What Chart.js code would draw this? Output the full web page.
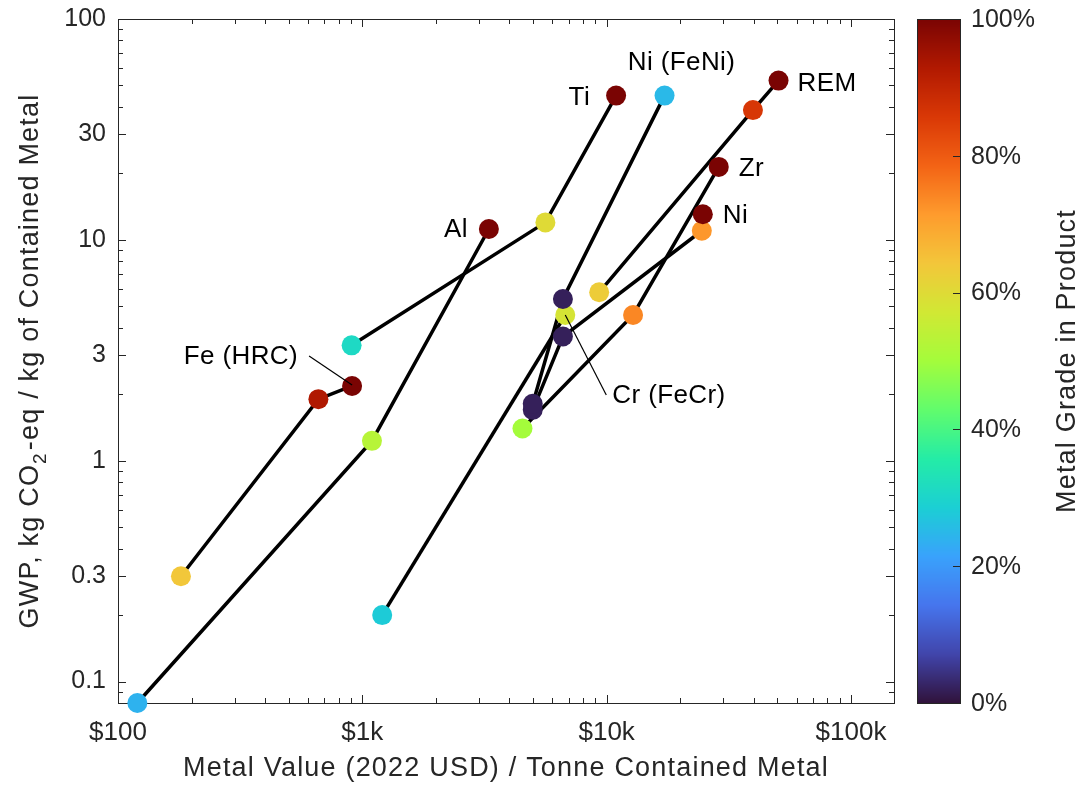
<!DOCTYPE html>
<html><head><meta charset="utf-8">
<script src="https://cdn.jsdelivr.net/npm/chart.js@4/dist/chart.umd.min.js"></script>
<style>html,body{margin:0;padding:0;background:#fff}#wrap{width:1082px;height:786px;position:relative}</style>
</head><body><div id="wrap"><canvas id="c" width="1082" height="786"></canvas></div>
<script>
// ---------- DATA ----------
const xTickValues = [100, 1000, 10000, 100000];
const xTickLabels = ['$100', '$1k', '$10k', '$100k'];
const yTickValues = [0.1, 0.3, 1, 3, 10, 30, 100];
const yTickLabels = ['0.1', '0.3', '1', '3', '10', '30', '100'];
const gradeTickValues = [0, 20, 40, 60, 80, 100];
const gradeTickLabels = ['0%', '20%', '40%', '60%', '80%', '100%'];

// value (USD / tonne contained metal), GWP (kg CO2-eq / kg metal), grade (%)
const feValue = [181, 661, 908];
const feGwp = [0.30, 1.90, 2.18];
const feGrade = [64, 93, 100];

const alValue = [120, 1095, 3296];
const alGwp = [0.080, 1.23, 11.2];
const alGrade = [24, 53, 100];

const tiValue = [904, 5614, 10932];
const tiGwp = [3.33, 12.0, 45.0];
const tiGrade = [31, 60, 100];

const feniValue = [4983, 6622, 17258];
const feniGwp = [1.81, 5.40, 45.0];
const feniGrade = [2, 2, 25];

const niValue = [4983, 6622, 24520, 24753];
const niGwp = [1.70, 3.65, 11.0, 13.06];
const niGrade = [2, 2, 72, 100];

const crValue = [1206, 6771];
const crGwp = [0.200, 4.57];
const crGrade = [28, 58];

const zrValue = [4523, 12828, 28760];
const zrGwp = [1.40, 4.57, 21.4];
const zrGrade = [50, 74, 100];

const remValue = [9320, 39690, 50520];
const remGwp = [5.79, 38.7, 52.6];
const remGrade = [63, 86, 100];

const seriesNames = ['Fe (HRC)', 'Al', 'Ti', 'Ni (FeNi)', 'Ni', 'Cr (FeCr)', 'Zr', 'REM'];

// ---------- COLORMAP (turbo) ----------
const turboStops = ['#30123b','#4145ab','#4675ed','#39a2fc','#1bcfd4','#24eca6','#61fc6c','#a4fc3b','#d1e834','#f3c63a','#fe9b2d','#f36315','#d93806','#b11901','#7a0403'];
function hexRgb(h){return [parseInt(h.substr(1,2),16),parseInt(h.substr(3,2),16),parseInt(h.substr(5,2),16)];}
const turboRgb = turboStops.map(hexRgb);
function turbo(t){
  t = Math.max(0, Math.min(1, t));
  const f = t * (turboRgb.length - 1);
  const i = Math.min(Math.floor(f), turboRgb.length - 2);
  const u = f - i;
  const a = turboRgb[i], b = turboRgb[i+1];
  return 'rgb(' + [0,1,2].map(k => Math.round(a[k] + (b[k]-a[k])*u)).join(',') + ')';
}

const seriesList = [
  [feValue, feGwp, feGrade],
  [alValue, alGwp, alGrade],
  [tiValue, tiGwp, tiGrade],
  [feniValue, feniGwp, feniGrade],
  [niValue, niGwp, niGrade],
  [crValue, crGwp, crGrade],
  [zrValue, zrGwp, zrGrade],
  [remValue, remGwp, remGrade]
];

const datasets = [];
seriesList.forEach((s, k) => {
  const pts = s[0].map((v, i) => ({x: v, y: s[1][i]}));
  datasets.push({
    label: seriesNames[k] + ' points', data: pts, showLine: false, order: 0, clip: false,
    pointRadius: 10, pointHoverRadius: 10, pointBorderWidth: 0,
    pointBackgroundColor: s[2].map(g => turbo(g / 100)), pointBorderColor: 'rgba(0,0,0,0)'
  });
  datasets.push({
    label: seriesNames[k], data: pts, showLine: true, order: 1, clip: false,
    borderColor: '#000', borderWidth: 3.5, pointRadius: 0, pointHoverRadius: 0, tension: 0
  });
});

// Annotation labels: text, anchor point (series data), offsets, alignment
const annoTexts = ['Ti', 'Ni (FeNi)', 'REM', 'Zr', 'Ni', 'Al', 'Fe (HRC)', 'Cr (FeCr)'];
const annoAnchorX = [tiValue[2], feniValue[2], remValue[2], zrValue[2], niValue[3], alValue[2], feValue[2], crValue[1]];
const annoAnchorY = [tiGwp[2], feniGwp[2], remGwp[2], zrGwp[2], niGwp[3], alGwp[2], feGwp[2], crGwp[1]];
const annoStyle = [
  {dx: -26, dy: 2, align: 'right'},
  {dx: 17, dy: -33, align: 'center'},
  {dx: 19, dy: 3, align: 'left'},
  {dx: 20, dy: 2, align: 'left'},
  {dx: 20, dy: 2, align: 'left'},
  {dx: -21, dy: 1, align: 'right'},
  {dx: -54, dy: -29, align: 'right', leader: [-43, -30, 0, -1]},
  {dx: 47, dy: 81, align: 'left', leader: [0, 0, 41, 80]}
];

const FONT = '"Liberation Sans", Arial, Helvetica, sans-serif';
const AXC = '#262626';

function spaced(ctx, px) { if ('letterSpacing' in ctx) ctx.letterSpacing = px + 'px'; }

const decoPlugin = {
  id: 'deco',
  beforeDatasetsDraw(chart) {
    const ctx = chart.ctx, ca = chart.chartArea;
    const xs = chart.scales.x, ys = chart.scales.y;
    ctx.save();
    ctx.strokeStyle = AXC; ctx.lineWidth = 1;
    const xMinor = [], yMinor = [];
    for (let d = 100; d <= 100000; d *= 10) for (let m = 1; m <= 9; m++) { const v = d*m; if (v <= xs.max) xMinor.push(v); }
    for (let d = 0.01; d <= 100; d *= 10) for (let m = 1; m <= 9; m++) { const v = d*m; if (v >= ys.min*0.999 && v <= ys.max*1.001) yMinor.push(v); }
    ctx.beginPath();
    xMinor.forEach(v => {
      const major = xTickValues.some(t => Math.abs(t - v) / t < 1e-6);
      const L = major ? 8 : 5;
      const px = Math.round(xs.getPixelForValue(v)) + 0.5;
      ctx.moveTo(px, ca.bottom); ctx.lineTo(px, ca.bottom - L);
      ctx.moveTo(px, ca.top); ctx.lineTo(px, ca.top + L);
    });
    yMinor.forEach(v => {
      const major = yTickValues.some(t => Math.abs(t - v) / t < 1e-6);
      const L = major ? 8 : 5;
      const py = Math.round(ys.getPixelForValue(v)) + 0.5;
      ctx.moveTo(ca.left, py); ctx.lineTo(ca.left + L, py);
      ctx.moveTo(ca.right, py); ctx.lineTo(ca.right - L, py);
    });
    ctx.stroke();
    ctx.strokeRect(Math.round(ca.left) + 0.5, Math.round(ca.top) + 0.5, Math.round(ca.right - ca.left), Math.round(ca.bottom - ca.top));
    ctx.restore();
  },
  afterDraw(chart) {
    const ctx = chart.ctx, ca = chart.chartArea;
    const xs = chart.scales.x, ys = chart.scales.y;
    ctx.save();
    // annotation labels
    ctx.fillStyle = '#000'; ctx.font = '26px ' + FONT; ctx.textBaseline = 'middle';
    spaced(ctx, 0.4);
    annoTexts.forEach((t, i) => {
      const px = xs.getPixelForValue(annoAnchorX[i]), py = ys.getPixelForValue(annoAnchorY[i]);
      const st = annoStyle[i];
      ctx.textAlign = st.align;
      ctx.fillText(t, px + st.dx, py + st.dy);
      if (st.leader) {
        ctx.strokeStyle = '#000'; ctx.lineWidth = 1.2;
        ctx.beginPath(); ctx.moveTo(px + st.leader[0], py + st.leader[1]); ctx.lineTo(px + st.leader[2], py + st.leader[3]); ctx.stroke();
      }
    });
    // x axis title
    ctx.fillStyle = AXC; ctx.font = '27px ' + FONT; ctx.textAlign = 'center'; ctx.textBaseline = 'middle';
    spaced(ctx, 1.2);
    ctx.fillText('Metal Value (2022 USD) / Tonne Contained Metal', (ca.left + ca.right) / 2, 769);
    // y title with subscript
    ctx.save();
    ctx.translate(31, (ca.top + ca.bottom) / 2); ctx.rotate(-Math.PI / 2);
    const p1 = 'GWP, kg CO', p2 = '2', p3 = '-eq / kg of Contained Metal';
    ctx.font = '27px ' + FONT; const w1 = ctx.measureText(p1).width, w3 = ctx.measureText(p3).width;
    ctx.font = '19px ' + FONT; const w2 = ctx.measureText(p2).width + 2;
    let x0 = -(w1 + w2 + w3) / 2;
    ctx.textAlign = 'left';
    ctx.font = '27px ' + FONT; ctx.fillText(p1, x0, 0);
    ctx.font = '19px ' + FONT; ctx.fillText(p2, x0 + w1, 10);
    ctx.font = '27px ' + FONT; ctx.fillText(p3, x0 + w1 + w2, 0);
    ctx.restore();
    // colorbar
    spaced(ctx, 0);
    const cbL = 917, cbR = 960, cbT = ca.top, cbB = ca.bottom;
    for (let y = cbT; y < cbB; y++) {
      ctx.fillStyle = turbo(1 - (y + 0.5 - cbT) / (cbB - cbT));
      ctx.fillRect(cbL, y, cbR - cbL, 1);
    }
    ctx.strokeStyle = AXC; ctx.lineWidth = 1;
    ctx.strokeRect(cbL + 0.5, cbT + 0.5, cbR - cbL, cbB - cbT);
    ctx.fillStyle = AXC; ctx.font = '25px ' + FONT; ctx.textAlign = 'left'; ctx.textBaseline = 'middle';
    gradeTickValues.forEach((g, i) => {
      const py = cbB - (g / 100) * (cbB - cbT);
      ctx.beginPath(); ctx.moveTo(cbR, Math.round(py) + 0.5); ctx.lineTo(cbR - 7, Math.round(py) + 0.5); ctx.stroke();
      ctx.fillText(gradeTickLabels[i], 971, py + 1);
    });
    ctx.save();
    ctx.translate(1068, (cbT + cbB) / 2); ctx.rotate(-Math.PI / 2);
    ctx.font = '27px ' + FONT; ctx.textAlign = 'center'; ctx.textBaseline = 'middle';
    spaced(ctx, 1.2);
    ctx.fillText('Metal Grade in Product', 0, 0);
    ctx.restore();
    ctx.restore();
  }
};

new Chart(document.getElementById('c'), {
  type: 'scatter',
  data: { datasets },
  options: {
    responsive: false, animation: false, devicePixelRatio: 1,
    layout: { padding: { left: 0, top: 19, right: 188, bottom: 0 } },
    plugins: { legend: { display: false }, tooltip: { enabled: false } },
    scales: {
      x: {
        type: 'logarithmic', min: 100, max: 150000,
        grid: { display: false, drawTicks: false }, border: { display: false },
        afterBuildTicks: (s) => { s.ticks = xTickValues.map(v => ({ value: v, major: true })); },
        afterFit: (s) => { s.height = 83; s.paddingLeft = 0; s.paddingRight = 0; },
        ticks: { autoSkip: false, maxRotation: 0, padding: 14, color: AXC, font: { family: FONT, size: 26 },
          callback: (v, i) => xTickLabels[i] }
      },
      y: {
        type: 'logarithmic', min: 0.08, max: 100,
        grid: { display: false, drawTicks: false }, border: { display: false },
        afterBuildTicks: (s) => { s.ticks = yTickValues.map(v => ({ value: v, major: true })); },
        afterFit: (s) => { s.width = 118; s.paddingTop = 0; s.paddingBottom = 0; },
        ticks: { autoSkip: false, padding: 12, color: AXC, font: { family: FONT, size: 25 },
          callback: (v, i) => yTickLabels[i] }
      }
    }
  },
  plugins: [decoPlugin]
});
</script></body></html>
